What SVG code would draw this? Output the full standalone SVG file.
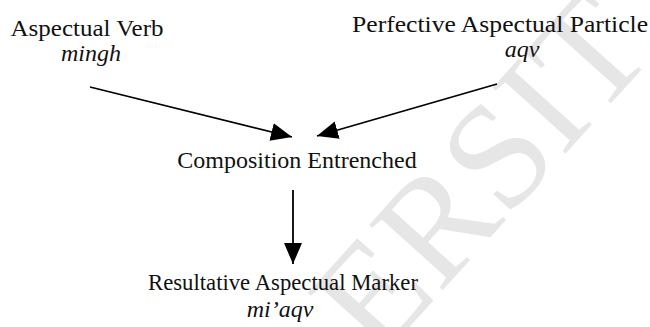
<svg xmlns="http://www.w3.org/2000/svg" width="650" height="327" viewBox="0 0 650 327">
<style>
.t{font-family:"Liberation Serif","Times New Roman",serif;font-size:24px;fill:#111;text-anchor:middle}
.i{font-style:italic}
.c{stroke:#000;stroke-width:1.8;fill:none}
.wm{font-family:"Liberation Serif","Times New Roman",serif;font-size:150px;fill:#e6e6e6}
</style>
<defs>
<marker id="ah" markerUnits="userSpaceOnUse" markerWidth="24" markerHeight="20" refX="21" refY="10" orient="auto">
<path d="M0,1 L21,10 L0,19 Z" fill="#000"/>
</marker>
</defs>
<rect width="650" height="327" fill="#fff"/>
<text class="wm" transform="translate(378,362) rotate(-48)">ERSIT</text>
<g id="connectors">
<line class="c" x1="90" y1="87" x2="292" y2="137" marker-end="url(#ah)"/>
<line class="c" x1="497" y1="84" x2="317" y2="136" marker-end="url(#ah)"/>
<line class="c" x1="293" y1="190" x2="293" y2="264" marker-end="url(#ah)"/>
</g>
<g id="node-verb">
<text class="t" x="87" y="36" textLength="153" lengthAdjust="spacingAndGlyphs">Aspectual Verb</text>
<text class="t i" x="91" y="61">mingh</text>
</g>
<g id="node-particle">
<text class="t" x="500" y="32" textLength="296" lengthAdjust="spacingAndGlyphs">Perfective Aspectual Particle</text>
<text class="t i" x="522" y="57">aqv</text>
</g>
<g id="node-composition">
<text class="t" x="297" y="168">Composition Entrenched</text>
</g>
<g id="node-marker">
<text class="t" x="283" y="290" textLength="270" lengthAdjust="spacingAndGlyphs">Resultative Aspectual Marker</text>
<text class="t i" x="280" y="317">mi’aqv</text>
</g>
</svg>
